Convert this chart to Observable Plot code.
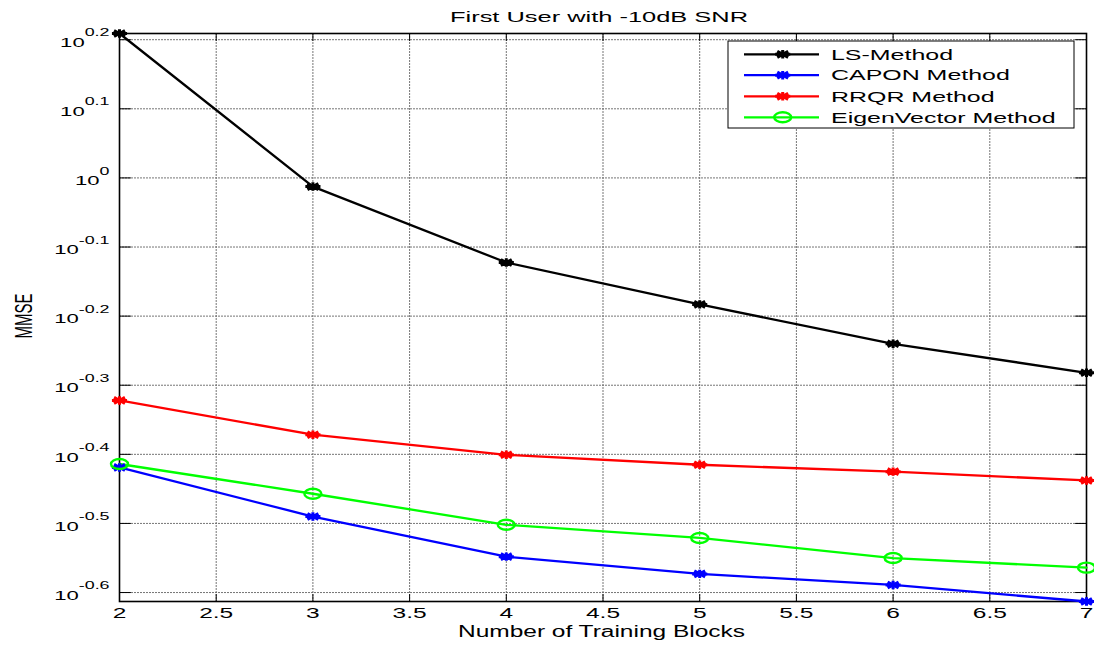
<!DOCTYPE html>
<html><head><meta charset="utf-8">
<script src="https://cdn.jsdelivr.net/npm/d3@7"></script>
<script src="https://cdn.jsdelivr.net/npm/@observablehq/plot@0.6"></script>
<style>body{margin:0;background:#fff;} svg{display:block}</style>
</head><body><div id="chart"></div>
<script>
const blocks = [2, 3, 4, 5, 6, 7];
const lsMethod = [1.618, 0.9716, 0.7543, 0.6561, 0.5754, 0.5224];
const caponMethod = [0.3811, 0.3236, 0.2831, 0.2673, 0.2576, 0.2438];
const rrqrMethod = [0.4764, 0.4250, 0.3975, 0.3845, 0.3758, 0.3649];
const eigenMethod = [0.3855, 0.3491, 0.3148, 0.3013, 0.2818, 0.2729];
const seriesNames = ["LS-Method", "CAPON Method", "RRQR Method", "EigenVector Method"];
const seriesColors = ["#000000", "#0000ff", "#ff0000", "#00ff00"];
const xTicks = [2, 2.5, 3, 3.5, 4, 4.5, 5, 5.5, 6, 6.5, 7];
const yTickExponents = [0.2, 0.1, 0, -0.1, -0.2, -0.3, -0.4, -0.5, -0.6];
const yTickLabels = ["0.2", "0.1", "0", "-0.1", "-0.2", "-0.3", "-0.4", "-0.5", "-0.6"];
const titleText = "First User with -10dB SNR";
const xLabel = "Number of Training Blocks";
const yLabel = "MMSE";

const seriesValues = [lsMethod, caponMethod, rrqrMethod, eigenMethod];
const rows = seriesNames.flatMap((s, i) => blocks.map((b, j) => ({series: s, x: b, y: seriesValues[i][j]})));
const yTickValues = yTickExponents.map(e => Math.pow(10, e));
const allY = rows.map(d => d.y);

const asteriskSym = {draw(ctx, size) {
  const r = Math.sqrt(size / Math.PI), sx = 1.8, a = r * 0.72;
  ctx.moveTo(-r * sx, 0); ctx.lineTo(r * sx, 0);
  ctx.moveTo(0, -r); ctx.lineTo(0, r);
  ctx.moveTo(-a * sx, -a); ctx.lineTo(a * sx, a);
  ctx.moveTo(-a * sx, a); ctx.lineTo(a * sx, -a);
}};
const ellipseSym = {draw(ctx, size) {
  const r = Math.sqrt(size / Math.PI), rx = r * 1.7, ry = r, k = 0.5523;
  ctx.moveTo(rx, 0);
  ctx.bezierCurveTo(rx, ry * k, rx * k, ry, 0, ry);
  ctx.bezierCurveTo(-rx * k, ry, -rx, ry * k, -rx, 0);
  ctx.bezierCurveTo(-rx, -ry * k, -rx * k, -ry, 0, -ry);
  ctx.bezierCurveTo(rx * k, -ry, rx, -ry * k, rx, 0);
  ctx.closePath();
}};
const tickShape = {draw(ctx, l) { ctx.moveTo(0, 0); ctx.lineTo(0, -l); }};

const gridStyle = {stroke: "#666", strokeOpacity: 0.9, strokeWidth: 1, strokeDasharray: "2,1"};

const svg = Plot.plot({
  width: 1094, height: 646,
  marginLeft: 119, marginRight: 8, marginTop: 33, marginBottom: 45,
  style: {fontFamily: "'Liberation Sans', Arial, sans-serif", background: "#fff", color: "#000"},
  x: {domain: [2, 7]},
  y: {type: "log", domain: [d3.min(allY), d3.max(allY)]},
  color: {domain: seriesNames, range: seriesColors},
  marks: [
    Plot.gridX(xTicks, gridStyle),
    Plot.gridY(yTickValues, gridStyle),
    Plot.vector(xTicks, {x: d => d, frameAnchor: "bottom", rotate: 0, length: 7, anchor: "start", shape: tickShape, stroke: "#000", strokeWidth: 1}),
    Plot.vector(xTicks, {x: d => d, frameAnchor: "top", rotate: 180, length: 7, anchor: "start", shape: tickShape, stroke: "#000", strokeWidth: 1}),
    Plot.vector(yTickValues, {y: d => d, frameAnchor: "left", rotate: 90, length: 11, anchor: "start", shape: tickShape, stroke: "#000", strokeWidth: 1}),
    Plot.vector(yTickValues, {y: d => d, frameAnchor: "right", rotate: -90, length: 11, anchor: "start", shape: tickShape, stroke: "#000", strokeWidth: 1}),
    Plot.frame({stroke: "#000", strokeWidth: 1.6}),
    Plot.line(rows, {x: "x", y: "y", z: "series", stroke: "series", strokeWidth: 2.3}),
    Plot.dot(rows.filter(d => d.series !== seriesNames[3]), {x: "x", y: "y", stroke: "series", symbol: asteriskSym, r: 4.2, strokeWidth: 3}),
    Plot.dot(rows.filter(d => d.series === seriesNames[3]), {x: "x", y: "y", stroke: "series", symbol: ellipseSym, r: 5, strokeWidth: 2.4, fill: "none"}),
    Plot.axisX(xTicks, {tickSize: 0, tickPadding: 7, fontSize: 14, tickFormat: d => String(d), label: null}),
    Plot.axisY(yTickValues, {tickSize: 0, tickPadding: 10, fontSize: 13, dy: 3, tickFormat: d => yTickLabels[yTickValues.indexOf(d)], label: null})
  ]
});
document.getElementById("chart").append(svg);

const S = d3.select(svg);
function stretch(el, factor) {
  const w = el.getComputedTextLength();
  el.setAttribute("textLength", w * factor);
  el.setAttribute("lengthAdjust", "spacingAndGlyphs");
}
function stretchTo(el, width) {
  el.setAttribute("textLength", width);
  el.setAttribute("lengthAdjust", "spacingAndGlyphs");
}

// y tick labels as 10^exponent
S.selectAll('[aria-label="y-axis tick label"] text').each(function() {
  const exp = this.textContent;
  const t = d3.select(this);
  t.text(null);
  t.append("tspan").text("10");
  t.append("tspan").attr("dy", -10.5).attr("font-size", 10.5).text(exp);
  stretch(this, 1.7);
});
S.selectAll('[aria-label="x-axis tick label"] text').each(function() { stretch(this, 1.75); });

// title
const title = S.append("text").attr("x", 599).attr("y", 22.3).attr("text-anchor", "middle")
  .attr("font-size", 14.5).attr("fill", "#000").text(titleText);
stretchTo(title.node(), 298);

// x label
const xl = S.append("text").attr("x", 601.5).attr("y", 636.7).attr("text-anchor", "middle")
  .attr("font-size", 16).attr("fill", "#000").text(xLabel);
stretchTo(xl.node(), 287);

// y label
S.append("text").attr("transform", "translate(23.5,316) scale(1.6,1) rotate(-90)")
  .attr("text-anchor", "middle").attr("dy", "0.36em").attr("font-size", 15).attr("fill", "#000").text(yLabel);

// legend
const lg = S.append("g");
lg.append("rect").attr("x", 728).attr("y", 41).attr("width", 346).attr("height", 87)
  .attr("fill", "#fff").attr("stroke", "#000").attr("stroke-width", 1);
const rowY = [54.3, 75.2, 96.3, 117.3];
seriesNames.forEach((name, i) => {
  const y = rowY[i];
  lg.append("line").attr("x1", 744).attr("x2", 819).attr("y1", y).attr("y2", y)
    .attr("stroke", seriesColors[i]).attr("stroke-width", 2.3);
  lg.append("path").attr("transform", `translate(782.7,${y})`)
    .attr("d", d3.symbol(i === 3 ? ellipseSym : asteriskSym, (i === 3 ? 25 : 17.6) * Math.PI)())
    .attr("fill", "none").attr("stroke", seriesColors[i]).attr("stroke-width", i === 3 ? 2.4 : 3);
  const t = lg.append("text").attr("x", 831).attr("y", y + 5.2).attr("font-size", 14.5)
    .attr("text-anchor", "start").attr("fill", "#000").text(name);
  stretch(t.node(), 1.72);
});
</script>
</body></html>
